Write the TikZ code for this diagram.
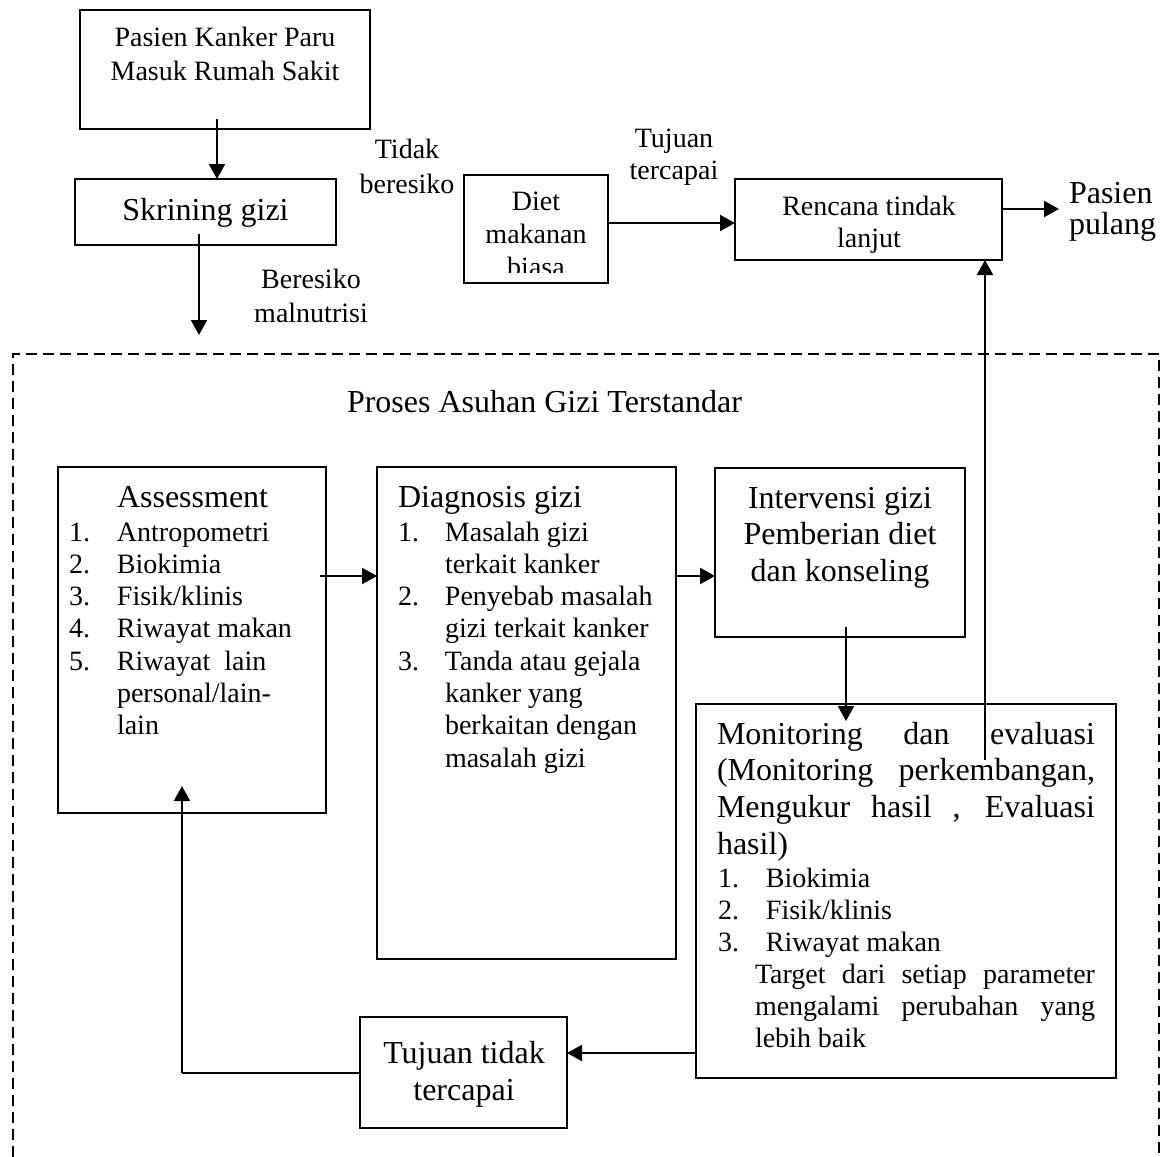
\documentclass[tikz,border=0pt]{standalone}
\usepackage{fontspec}
\setmainfont{Liberation Serif}
\usetikzlibrary{arrows.meta,fit}
\newcommand\tl[4]{\fontsize{#1}{#2}\selectfont\begin{tabular}[t]{@{}#3@{}}#4\end{tabular}}
\begin{document}
\begin{tikzpicture}[x=0.5pt,y=-0.5pt,
  box/.style={draw, line width=1.1pt, inner sep=0pt, outer sep=0pt, rectangle},
  arr/.style={draw, line width=1.1pt, -{Triangle[length=7.5pt,width=8pt]}},
  thinline/.style={draw, line width=0.6pt},
  dashframe/.style={draw, line width=1.2pt, dash pattern=on 5.5pt off 3pt},
  txt/.style={inner sep=0pt, outer sep=0pt, anchor=base},
  txtl/.style={inner sep=0pt, outer sep=0pt, anchor=base west}]
\useasboundingbox (0,0) rectangle (1168,1157);
\fill[white] (0,0) rectangle (1168,1157);

% dashed frame
\draw[dashframe] (13,1157) -- (13,354) -- (1159,354) -- (1159,1157);

% boxes
\node[box, fit={(80,10) (370,129)}] (masuk) {};
\node[box, fit={(75,179) (336,245)}] (skrining) {};
\node[box, fit={(464,175) (608,283)}] (diet) {};
\node[box, fit={(735,179) (1002,260)}] (rencana) {};
\node[box, fit={(58,467) (326,813)}] (assess) {};
\node[box, fit={(377,467) (676,959)}] (diag) {};
\node[box, fit={(715,468) (965,637)}] (interv) {};
\node[box, fit={(696,704) (1116,1078)}] (monit) {};
\node[box, fit={(360,1017) (567,1128)}] (tujuan) {};

% texts
\node[txt] (tmasuk) at (225,46) {\tl{14pt}{17pt}{c}{Pasien Kanker Paru\\Masuk Rumah Sakit}};
\node[txt] (tskrining) at (205.5,220) {\tl{16pt}{18pt}{c}{Skrining gizi}};
\node[txt] (tberesiko) at (311,288) {\tl{14pt}{17pt}{c}{Beresiko\\malnutrisi}};
\node[txt] (ttidak) at (407,158) {\tl{14pt}{17.5pt}{c}{Tidak\\beresiko}};
\begin{scope}
\clip (464,175) rectangle (608,272);
\node[txt] (tdiet) at (536,210) {\tl{14pt}{16.5pt}{c}{Diet\\makanan\\biasa}};
\end{scope}
\node[txt] (ttujuan) at (674,147) {\tl{14pt}{16pt}{c}{Tujuan\\tercapai}};
\node[txt] (trencana) at (869,215) {\tl{14pt}{16pt}{c}{Rencana tindak\\lanjut}};
\node[txtl] (pasien) at (1069,203) {\tl{16pt}{15pt}{l}{Pasien\\pulang}};
\node[txtl] (ttitle) at (347,412) {\tl{16pt}{18pt}{l}{Proses Asuhan Gizi Terstandar}};

\node[txtl] (tassessh) at (117,507) {\tl{16pt}{18pt}{l}{Assessment}};
\node[txtl] (tassess) at (69,541) {\tl{14pt}{16.15pt}{p{24pt}@{}l}{%
1. & Antropometri\\
2. & Biokimia\\
3. & Fisik/klinis\\
4. & Riwayat makan\\
5. & Riwayat\ \ lain\\
   & personal/lain-\\
   & lain}};

\node[txtl] (tdiagh) at (398,507) {\tl{16pt}{18pt}{l}{Diagnosis gizi}};
\node[txtl] (tdiag) at (398,541) {\tl{14pt}{16.15pt}{p{23.5pt}@{}l}{%
1. & Masalah gizi\\
   & terkait kanker\\
2. & Penyebab masalah\\
   & gizi terkait kanker\\
3. & Tanda atau gejala\\
   & kanker yang\\
   & berkaitan dengan\\
   & masalah gizi}};

\node[txt] (tinterv) at (840,508) {\tl{16pt}{18.3pt}{c}{Intervensi gizi\\Pemberian diet\\dan konseling}};

\node[txtl] (tmonith) at (717,744) {\tl{16pt}{18.35pt}{l}{%
\makebox[189pt][s]{Monitoring dan evaluasi}\\
\makebox[189pt][s]{(Monitoring perkembangan,}\\
\makebox[189pt][s]{Mengukur hasil , Evaluasi}\\
hasil)}};
\node[txtl] (tmonit) at (718,887) {\tl{14pt}{16pt}{p{24pt}@{}l}{%
1. & Biokimia\\
2. & Fisik/klinis\\
3. & Riwayat makan\\
\multicolumn{2}{@{\hspace{18.5pt}}l@{}}{\makebox[170pt][s]{Target dari setiap parameter}}\\
\multicolumn{2}{@{\hspace{18.5pt}}l@{}}{\makebox[170pt][s]{mengalami perubahan yang}}\\
\multicolumn{2}{@{\hspace{18.5pt}}l@{}}{lebih baik}}};

\node[txt] (ttujuan2) at (464,1063) {\tl{16pt}{18.5pt}{c}{Tujuan tidak\\tercapai}};

% connectors
\coordinate (a1) at (217,119);
\draw[arr] (a1) -- (a1 |- skrining.north);
\coordinate (a2) at (199,234);
\coordinate (a2e) at (199,335);
\draw[arr] (a2) -- (a2e);
\coordinate (d1) at (diet.east |- 0,223);
\draw[arr] (d1) -- (d1 -| rencana.west);
\coordinate (r1) at (rencana.east |- 0,209);
\draw[arr, shorten >=5pt] (r1) -- (r1 -| pasien.west);
\coordinate (m1) at (985,760);
\draw[arr] (m1) -- (m1 |- rencana.south);
\coordinate (as1) at (320,576);
\draw[arr] (as1) -- (as1 -| diag.west);
\coordinate (dg1) at (diag.east |- as1);
\draw[arr] (dg1) -- (dg1 -| interv.west);
\coordinate (iv1) at (846,627);
\coordinate (iv2) at (846,721);
\draw[arr] (iv1) -- (iv2);
\coordinate (mt1) at (monit.west |- 0,1053);
\draw[arr] (mt1) -- (mt1 -| tujuan.east);
\coordinate (tj1) at (tujuan.west |- 0,1073);
\coordinate (tj2) at (182,1073);
\coordinate (tj3) at (182,786);
\draw[thinline] (tj1) -- (tj2);
\draw[arr] (tj2) -- (tj3);
\end{tikzpicture}
\end{document}
